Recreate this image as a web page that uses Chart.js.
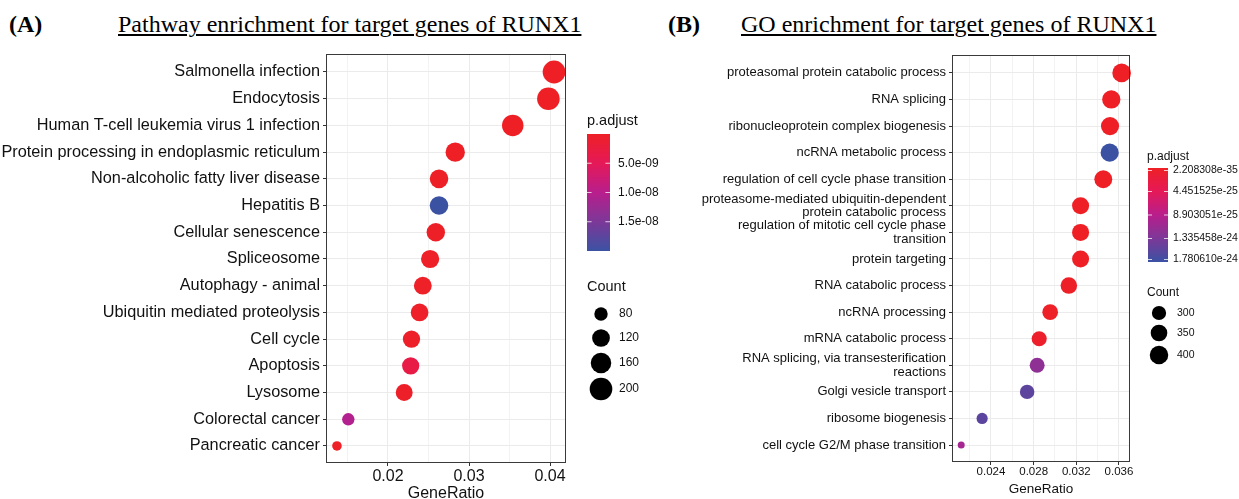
<!DOCTYPE html>
<html><head><meta charset="utf-8">
<script src="https://cdn.jsdelivr.net/npm/chart.js@4.4.0/dist/chart.umd.min.js"></script>
<style>
html,body{margin:0;padding:0;background:#fff;}
#wrap{position:relative;width:1239px;height:499px;overflow:hidden;background:#fff;}
.t{position:absolute;font-family:'Liberation Serif','Times New Roman',serif;font-size:24px;line-height:24px;color:#000;white-space:nowrap;}
.lab{font-weight:bold;}
.ttl{text-decoration:underline;text-decoration-thickness:1.5px;text-underline-offset:2px;}
#cA{position:absolute;left:0;top:0;}
#cB{position:absolute;left:665px;top:0;}
</style></head><body>
<div id="wrap">
<div class="t lab" style="left:9px;top:12px">(A)</div>
<div class="t ttl" style="left:118px;top:12px">Pathway enrichment for target genes of RUNX1</div>
<div class="t lab" style="left:668px;top:12px">(B)</div>
<div class="t ttl" style="left:741px;top:12px">GO enrichment for target genes of RUNX1</div>
<canvas id="cA" width="665" height="499"></canvas>
<canvas id="cB" width="574" height="499"></canvas>
</div>
<script>
// ---------------- Panel A data (KEGG pathways) ----------------
const pathwayLabels = ["Salmonella infection","Endocytosis","Human T-cell leukemia virus 1 infection",
  "Protein processing in endoplasmic reticulum","Non-alcoholic fatty liver disease","Hepatitis B",
  "Cellular senescence","Spliceosome","Autophagy - animal","Ubiquitin mediated proteolysis",
  "Cell cycle","Apoptosis","Lysosome","Colorectal cancer","Pancreatic cancer"];
const pathwayRatio = [0.0405,0.0398,0.0354,0.0283,0.0263,0.0263,0.0259,0.0252,0.0243,0.0239,0.0229,0.0228,0.0220,0.0151,0.0137];
const pathwayCount = [203,199,177,142,131,131,129,126,121,119,115,114,110,75,69];
const pathwayPadj  = [2.1e-13,3.5e-12,1.2e-11,3.0e-11,8.5e-11,2.0e-8,1.1e-10,1.6e-10,2.1e-10,2.6e-10,2.9e-10,3.3e-9,3.4e-10,1.05e-8,2.5e-10];
const pathwayXMajor = [0.02,0.03,0.04];
const pathwayXMinor = [0.015,0.025,0.035];
const pathwayXLabels = ["0.02","0.03","0.04"];
const pathwayPadjBreaks = [5e-9,1e-8,1.5e-8];
const pathwayPadjBreakLabels = ["5.0e-09","1.0e-08","1.5e-08"];
const pathwayCountBreaks = [80,120,160,200];

// ---------------- Panel B data (GO terms) ----------------
const goLabels = ["proteasomal protein catabolic process","RNA splicing","ribonucleoprotein complex biogenesis",
  "ncRNA metabolic process","regulation of cell cycle phase transition",
  ["proteasome-mediated ubiquitin-dependent","protein catabolic process"],
  ["regulation of mitotic cell cycle phase","transition"],
  "protein targeting","RNA catabolic process","ncRNA processing","mRNA catabolic process",
  ["RNA splicing, via transesterification","reactions"],
  "Golgi vesicle transport","ribosome biogenesis","cell cycle G2/M phase transition"];
const goRatio = [0.03625,0.03528,0.03516,0.03513,0.03453,0.0324,0.0324,0.0324,0.0313,0.02955,0.02852,0.02833,0.02739,0.02317,0.02121];
const goCount = [402,392,390,390,383,360,360,360,347,328,317,314,304,257,235];
const goPadj  = [2.208308e-35,4.6e-33,1.9e-31,1.780610e-24,3.2e-30,6.5e-29,2.4e-28,8.7e-28,5.1e-27,1.6e-26,4.0e-26,1.2e-24,1.55e-24,1.56e-24,1.03e-24];
const goXMajor = [0.024,0.028,0.032,0.036];
const goXMinor = [0.022,0.026,0.030,0.034];
const goXLabels = ["0.024","0.028","0.032","0.036"];
const goPadjBreaks = [2.208308e-35,4.451525e-25,8.903051e-25,1.335458e-24,1.780610e-24];
const goPadjBreakLabels = ["2.208308e-35","4.451525e-25","8.903051e-25","1.335458e-24","1.780610e-24"];
const goCountBreaks = [300,350,400];

// ---------------- helpers ----------------
const SANS = '"Liberation Sans", Arial, Helvetica, sans-serif';
const colorStops = [[0,[238,32,38]],[0.25,[229,25,88]],[0.5,[184,30,140]],[0.75,[124,56,152]],[1,[59,82,163]]];
function colorAt(t){
  t = Math.max(0, Math.min(1, t));
  for (let i=1;i<colorStops.length;i++){
    const [t1,c1] = colorStops[i-1], [t2,c2] = colorStops[i];
    if (t <= t2){
      const f = (t - t1)/(t2 - t1);
      const c = c1.map((v,k)=>Math.round(v + (c2[k]-v)*f));
      return `rgb(${c[0]},${c[1]},${c[2]})`;
    }
  }
  const c = colorStops[colorStops.length-1][1];
  return `rgb(${c[0]},${c[1]},${c[2]})`;
}
function sizeScale(counts, rMin, rMax){
  const cMin = Math.min(...counts), cMax = Math.max(...counts);
  return c => rMin + (rMax - rMin)*Math.sqrt(Math.max(0, Math.min(1,(c - cMin)/(cMax - cMin))));
}
function near(v, arr){ return arr.findIndex(a => Math.abs(a - v) < 1e-9); }

const dotLegend = {
  id: 'dotLegend',
  afterDraw(chart, args, o){
    const ctx = chart.ctx;
    ctx.save();
    const a = chart.chartArea;
    ctx.strokeStyle = '#3a3a3a'; ctx.lineWidth = 1;
    ctx.strokeRect(Math.round(a.left) - 0.5, Math.round(a.top) - 0.5, Math.round(a.right - a.left) + 1, Math.round(a.bottom - a.top) + 1);

    ctx.fillStyle = '#111'; ctx.textBaseline = 'middle'; ctx.textAlign = 'left';
    ctx.font = `${o.titleSize}px ${SANS}`;
    ctx.fillText('p.adjust', o.titleX, o.pTitleY);
    const h = o.barBottom - o.barTop;
    const g = ctx.createLinearGradient(0, o.barTop, 0, o.barBottom);
    for (let i=0;i<=20;i++) g.addColorStop(i/20, colorAt(i/20));
    ctx.fillStyle = g;
    ctx.fillRect(o.barX, o.barTop, o.barW, h);
    const pMin = o.pMin, pMax = o.pMax;
    ctx.font = `${o.labelSize}px ${SANS}`;
    o.pBreaks.forEach((v,i)=>{
      let y = o.barTop + (v - pMin)/(pMax - pMin)*h;
      y = Math.max(o.barTop + o.inset, Math.min(o.barBottom - o.inset, y));
      ctx.strokeStyle = 'rgba(255,255,255,0.75)';
      ctx.beginPath();
      ctx.moveTo(o.barX, y); ctx.lineTo(o.barX + o.barW*0.2, y);
      ctx.moveTo(o.barX + o.barW*0.8, y); ctx.lineTo(o.barX + o.barW, y);
      ctx.stroke();
      ctx.fillStyle = '#111';
      ctx.fillText(o.pLabels[i], o.labX, y);
    });
    ctx.font = `${o.titleSize}px ${SANS}`;
    ctx.fillText('Count', o.titleX, o.cTitleY);
    ctx.font = `${o.labelSize}px ${SANS}`;
    o.cBreaks.forEach((c,i)=>{
      const r = o.size(c);
      ctx.fillStyle = '#000';
      ctx.beginPath(); ctx.arc(o.circleX, o.circleY[i], r, 0, Math.PI*2); ctx.fill();
      ctx.fillStyle = '#111';
      ctx.fillText(String(c), o.cLabX, o.circleY[i]);
    });
    ctx.restore();
  }
};

function makeChart(canvasId, cfg){
  const size = sizeScale(cfg.count, cfg.rMin, cfg.rMax);
  const pMin = Math.min(...cfg.padj), pMax = Math.max(...cfg.padj);
  const points = cfg.ratio.map((x,i)=>({x:x, y:i, r:size(cfg.count[i])}));
  const colors = cfg.padj.map(p => colorAt((p - pMin)/(pMax - pMin)));
  const xTicks = [...cfg.xMajor, ...cfg.xMinor].sort((a,b)=>a-b);
  const n = cfg.labels.length;
  return new Chart(document.getElementById(canvasId), {
    type: 'bubble',
    data: { datasets: [{ data: points, backgroundColor: colors, borderWidth: 0, hoverBorderWidth: 0, clip: false }] },
    options: {
      responsive: false, animation: false, events: [],
      layout: { padding: cfg.padding },
      plugins: { legend: {display:false}, tooltip: {enabled:false},
        dotLegend: Object.assign({ size, pMin, pMax }, cfg.legend) },
      scales: {
        x: {
          type: 'linear', position: 'bottom', min: cfg.xMin, max: cfg.xMax,
          afterBuildTicks: s => { s.ticks = xTicks.map(v=>({value:v})); },
          afterFit: s => { s.height = cfg.xAxisHeight; },
          border: { display: false },
          grid: {
            color: c => (c.tick && near(c.tick.value, cfg.xMajor) >= 0) ? '#EBEBEB' : '#F3F3F3',
            lineWidth: 1,
            tickColor: c => (c.tick && near(c.tick.value, cfg.xMajor) >= 0) ? '#333' : 'rgba(0,0,0,0)',
            tickLength: 4, drawTicks: true
          },
          ticks: {
            autoSkip: false, maxRotation: 0, minRotation: 0, padding: cfg.xTickPad, color: '#111',
            font: { family: SANS, size: cfg.xTickSize },
            callback: v => { const i = near(v, cfg.xMajor); return i >= 0 ? cfg.xLabels[i] : ''; }
          },
          title: { display: true, text: 'GeneRatio', color: '#111',
            font: { family: SANS, size: cfg.xTitleSize, lineHeight: 1 }, padding: { top: 0, bottom: cfg.xTitlePad } }
        },
        y: {
          type: 'linear', reverse: true, min: -0.636, max: n - 1 + 0.6,
          afterBuildTicks: s => { s.ticks = cfg.labels.map((_,i)=>({value:i})); },
          afterFit: s => { s.width = cfg.yAxisWidth; },
          border: { display: false },
          grid: { color: '#EBEBEB', lineWidth: 1, tickColor: '#333', tickLength: 4 },
          ticks: {
            autoSkip: false, padding: 3, color: '#111',
            font: { family: SANS, size: cfg.yTickSize, lineHeight: cfg.yLineHeight },
            callback: v => cfg.labels[Math.round(v)]
          }
        }
      }
    },
    plugins: [dotLegend]
  });
}

makeChart('cA', {
  labels: pathwayLabels, ratio: pathwayRatio, count: pathwayCount, padj: pathwayPadj,
  rMin: 4.8, rMax: 11.4,
  xMin: 0.01247, xMax: 0.04185, xMajor: pathwayXMajor, xMinor: pathwayXMinor, xLabels: pathwayXLabels,
  padding: { left: 0, top: 55, right: 100, bottom: 0 },
  yAxisWidth: 327, xAxisHeight: 37, xTickPad: 1, xTickSize: 16, xTitleSize: 16, xTitlePad: -3,
  yTickSize: 16.3, yLineHeight: 1.2,
  legend: { titleSize: 14.5, labelSize: 12, titleX: 587, pTitleY: 121, barX: 587, barW: 23, barTop: 134, barBottom: 251,
    inset: 0, labX: 618, pBreaks: pathwayPadjBreaks, pLabels: pathwayPadjBreakLabels,
    cTitleY: 287, cBreaks: pathwayCountBreaks, circleX: 601, circleY: [314,338,363,389], cLabX: 619 }
});

makeChart('cB', {
  labels: goLabels, ratio: goRatio, count: goCount, padj: goPadj,
  rMin: 3.5, rMax: 9.3,
  xMin: 0.02044, xMax: 0.03694, xMajor: goXMajor, xMinor: goXMinor, xLabels: goXLabels,
  padding: { left: 0, top: 56, right: 110, bottom: 0 },
  yAxisWidth: 288, xAxisHeight: 38, xTickPad: 0, xTickSize: 11.5, xTitleSize: 13.5, xTitlePad: 3,
  yTickSize: 13, yLineHeight: 1.05,
  legend: { titleSize: 12, labelSize: 10.5, titleX: 482, pTitleY: 157, barX: 483, barW: 20, barTop: 168, barBottom: 262,
    inset: 2.5, labX: 508, pBreaks: goPadjBreaks, pLabels: goPadjBreakLabels,
    cTitleY: 293, cBreaks: goCountBreaks, circleX: 494, circleY: [313,333,355], cLabX: 512 }
});
</script>
</body></html>
